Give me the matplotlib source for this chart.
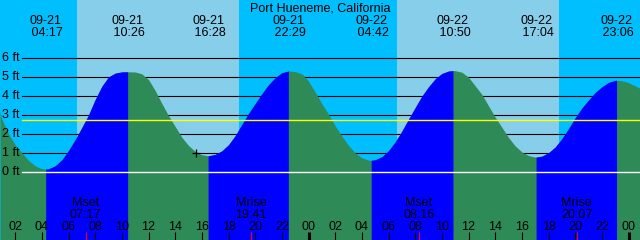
import numpy as np
import matplotlib.pyplot as plt

plt.rcParams['font.family'] = ['Liberation Sans', 'DejaVu Sans']

##==============================================================================
# data (hours counted from 09-21 00:00, heights in ft)
station = 'Port Hueneme, California'

hours = [1.0 + 0.5*i for i in range(96)]
levels = [2.80, 2.02, 1.45, 1.02, 0.63, 0.34, 0.19, 0.185, 0.34, 0.66,   # 1.0 - 5.5
          1.15, 1.72, 2.36, 3.02, 3.83, 4.53, 5.02, 5.22, 5.285, 5.29,   # 6.0 - 10.5
          5.28, 5.18, 4.88, 4.30, 3.62, 2.98, 2.41, 1.84, 1.41, 1.10,    # 11.0 - 15.5
          0.925, 0.87, 0.94, 1.13, 1.45, 1.93, 2.52, 3.10, 3.62, 4.14,   # 16.0 - 20.5
          4.61, 4.98, 5.24, 5.33, 5.30, 5.18, 4.80, 4.22, 3.61, 3.06,    # 21.0 - 25.5
          2.45, 1.90, 1.41, 1.02, 0.76, 0.64, 0.66, 0.82, 1.14, 1.60,    # 26.0 - 30.5
          2.17, 2.80, 3.41, 4.01, 4.50, 4.92, 5.20, 5.33, 5.35, 5.27,    # 31.0 - 35.5
          5.00, 4.55, 4.10, 3.50, 2.90, 2.37, 1.83, 1.39, 1.07, 0.88,    # 36.0 - 40.5
          0.80, 0.85, 1.03, 1.33, 1.77, 2.30, 2.87, 3.38, 3.80, 4.20,    # 41.0 - 45.5
          4.50, 4.73, 4.84, 4.82, 4.72, 4.55]                            # 46.0 - 48.5
edge_hours = [0.86, 48.86]
edge_levels = [3.20, 4.42]

tide_days = [0, 0, 0, 0, 1, 1, 1, 1]
tide_dates = ['09-21', '09-21', '09-21', '09-21', '09-22', '09-22', '09-22', '09-22']
tide_clock = ['04:17', '10:26', '16:28', '22:29', '04:42', '10:50', '17:04', '23:06']
tide_levels = [0.17, 5.29, 0.87, 5.33, 0.63, 5.35, 0.80, 4.84]

moon_names = ['Mset', 'Mrise', 'Mset', 'Mrise']
moon_days = [0, 0, 1, 1]
moon_clock = ['07:17', '19:41', '08:16', '20:07']

sun_days = [0, 0, 1, 1]
sun_clock = ['06:38', '18:47', '06:38', '18:47']

now_hour, now_level = 15.56, 1.0
mean_level = 2.74
grid_ft = [0, 1, 2, 3, 4, 5, 6]
hour_ticks = list(range(2, 49, 2))

##==============================================================================
def to_hours(day, hhmm):
    h, m = hhmm.split(':')
    return 24*day + int(h) + int(m)/60.0

def ypx(p):
    # pixel row -> feet
    return (172.3 - p)/19.0

x0, x1 = edge_hours
ybot, ytop = ypx(240), ypx(0)
pph = 640.0/(x1 - x0)

tide_h = [to_hours(d, c) for d, c in zip(tide_days, tide_clock)]
moon_h = [to_hours(d, c) for d, c in zip(moon_days, moon_clock)]
sun_h = [to_hours(d, c) for d, c in zip(sun_days, sun_clock)]

t = np.array(hours + tide_h + edge_hours, dtype=float)
z = np.array(levels + tide_levels + edge_levels, dtype=float)
order = np.argsort(t)
t, z = t[order], z[order]

fig = plt.figure(figsize=(6.4, 2.4), dpi=100)
ax = fig.add_axes([0, 0, 1, 1])
ax.set_xlim(x0, x1)
ax.set_ylim(ybot, ytop)
ax.axis('off')

# night / day background
bounds = [x0] + sun_h + [x1]
for i in range(len(bounds) - 1):
    col = '#00BFFF' if i % 2 == 0 else '#87CEEB'
    ax.axvspan(bounds[i], bounds[i+1], color=col, lw=0, zorder=0)

# grid lines (under the water), labels on top
for g in grid_ft:
    if g > 0:
        ax.axhline(g, xmin=22/640., color='black', lw=0.8, zorder=1)
    ax.text(x0 + 2.5/pph, g, '%d ft' % g, ha='left', va='center',
            fontsize=9, zorder=6)

# water: green falling, blue rising
ax.fill_between(t, z, ybot, color='#2E8B57', lw=0, zorder=2)
for i in range(len(tide_h) - 1):
    if tide_levels[i] < tide_levels[i+1]:
        m = (t >= tide_h[i]) & (t <= tide_h[i+1])
        ax.fill_between(t[m], z[m], ybot, color='#0000FF', lw=0, zorder=3)

ax.axhline(0, xmin=22/640., color='white', lw=1.0, zorder=4)
ax.axhline(mean_level, xmin=22/640., color='yellow', lw=1.0, zorder=4)
ax.plot([now_hour], [now_level], marker='+', color='black', ms=6.3, mew=0.9,
        zorder=6)

# labels
ax.text((x0 + x1)/2, ypx(11.5), station, ha='center', va='baseline',
        fontsize=9, zorder=6)
for h, d, c in zip(tide_h, tide_dates, tide_clock):
    ax.text(h, ypx(24), d, ha='center', va='baseline', fontsize=9, zorder=6)
    ax.text(h, ypx(36), ' ' + c, ha='center', va='baseline', fontsize=9, zorder=6)
for h, n, c in zip(moon_h, moon_names, moon_clock):
    ax.text(h, ypx(206.5), n, ha='center', va='baseline', fontsize=9, zorder=6)
    ax.text(h, ypx(218.3), c, ha='center', va='baseline', fontsize=9, zorder=6)
    ax.vlines(h, ybot, ypx(232), color='red', lw=0.8, zorder=6)
for h in hour_ticks:
    ax.text(h, ypx(230), '%02d' % (h % 24), ha='center', va='baseline',
            fontsize=9, zorder=6)
    ax.vlines(h, ybot, ypx(232), color='black',
              lw=2.2 if h % 24 == 0 else 0.8, zorder=6)

fig.savefig('out.png', dpi=100)
